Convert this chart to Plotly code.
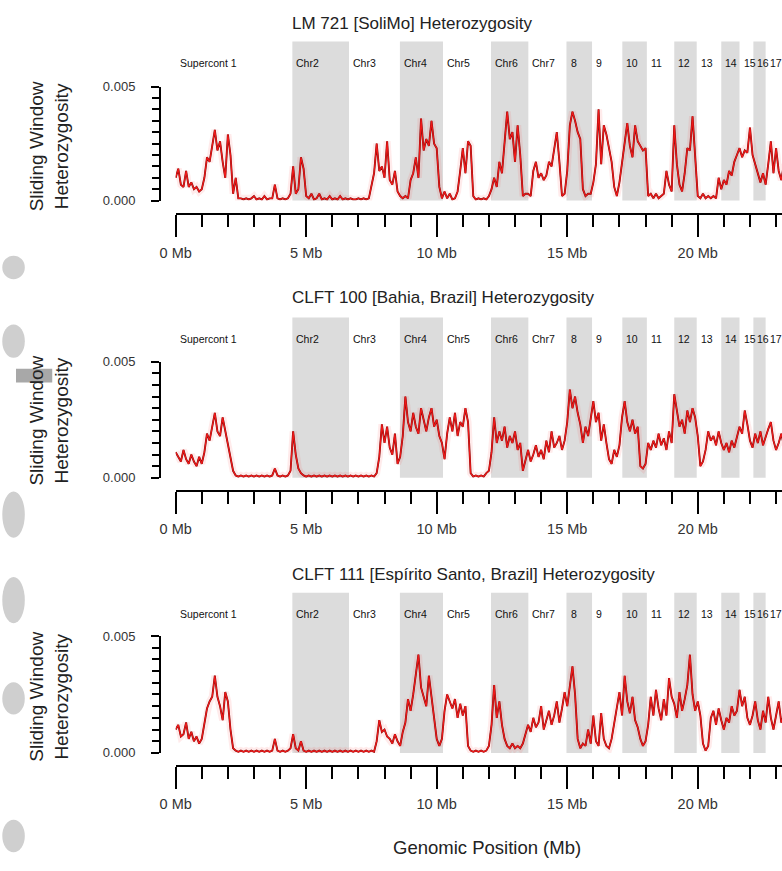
import plotly.graph_objects as go

W, H = 782, 871

# ---------------- data ----------------
sample_titles = [
    "LM 721 [SoliMo] Heterozygosity",
    "CLFT 100 [Bahia, Brazil] Heterozygosity",
    "CLFT 111 [Espírito Santo, Brazil] Heterozygosity",
]

chrom_names = ["Supercont 1", "Chr2", "Chr3", "Chr4", "Chr5", "Chr6", "Chr7",
               "8", "9", "10", "11", "12", "13", "14", "15", "16", "17"]
chrom_starts_mb = [0.0, 4.47, 6.64, 8.59, 10.24, 12.08, 13.51, 14.97, 15.95,
                   17.11, 18.05, 19.10, 19.96, 20.90, 21.60, 22.13, 22.60]
last_chrom_end_mb = 23.6

window_step_mb = 0.1   # sliding-window spacing (windows start at 0 Mb)

# heterozygosity per window, in units of 1e-3
het1_milli = [
    1.0, 1.4, 0.7, 0.6, 1.3, 0.6, 0.8, 0.5, 0.6, 0.4,
    0.5, 1.0, 1.9, 1.7, 2.4, 3.1, 2.2, 2.6, 1.7, 1.0,
    2.9, 2.0, 0.3, 1.0, 0.1, 0.1, 0.05, 0.1, 0.05, 0.1,
    0.2, 0.05, 0.1, 0.05, 0.2, 0.05, 0.1, 0.1, 0.7, 0.1,
    0.05, 0.1, 0.05, 0.1, 0.3, 1.5, 0.3, 0.5, 1.9, 1.4,
    0.2, 0.1, 0.3, 0.05, 0.1, 0.3, 0.05, 0.1, 0.05, 0.2,
    0.05, 0.1, 0.05, 0.2, 0.05, 0.1, 0.05, 0.1, 0.05, 0.05,
    0.1, 0.05, 0.1, 0.05, 0.1, 0.6, 1.2, 2.5, 1.3, 1.5,
    1.0, 2.6, 0.9, 0.7, 1.3, 0.4, 0.2, 0.1, 0.2, 0.1,
    0.9, 1.2, 1.9, 1.0, 3.6, 2.2, 2.7, 2.4, 3.5, 2.5,
    2.3, 0.6, 0.1, 0.4, 0.1, 0.3, 0.05, 0.1, 0.4, 1.3,
    2.3, 1.2, 2.6, 2.4, 0.2, 0.05, 0.1, 0.05, 0.1, 0.05,
    0.2, 0.5, 1.0, 0.6, 1.7, 1.2, 2.5, 3.9, 2.7, 3.0,
    1.7, 3.3, 2.0, 0.2, 0.3, 0.3, 0.2, 1.3, 1.7, 1.0,
    1.2, 0.9, 1.1, 1.7, 1.5, 2.3, 3.0, 1.7, 0.2, 0.3,
    1.3, 3.3, 3.9, 3.5, 3.0, 2.7, 0.5, 0.2, 0.3, 0.3,
    0.8, 1.6, 4.0, 1.6, 3.3, 2.9, 2.2, 1.7, 0.6, 0.2,
    0.8, 1.7, 2.5, 3.4, 2.4, 1.9, 3.3, 2.6, 2.4, 2.2,
    2.3, 0.2, 0.3, 0.1, 0.3, 0.1, 0.2, 0.3, 1.3, 0.7,
    0.4, 3.3, 1.6, 0.7, 0.4, 1.2, 2.3, 2.2, 3.7, 2.0,
    0.2, 0.1, 0.3, 0.1, 0.2, 0.1, 0.2, 0.1, 1.0, 0.5,
    0.9, 0.7, 1.3, 1.1, 1.7, 2.0, 2.3, 1.9, 2.2, 2.1,
    3.2, 2.0, 1.6, 1.3, 0.8, 1.2, 0.7, 1.6, 2.6, 1.2,
    2.3, 1.3, 0.9, 1.6,
]
het2_milli = [
    1.1, 0.9, 0.7, 1.2, 0.8, 0.6, 1.0, 0.7, 0.5, 0.9,
    0.6, 1.1, 1.9, 1.6, 2.2, 2.8, 2.0, 1.8, 2.6, 2.0,
    1.5, 0.8, 0.3, 0.1, 0.05, 0.1, 0.05, 0.1, 0.05, 0.1,
    0.05, 0.1, 0.05, 0.1, 0.05, 0.1, 0.05, 0.1, 0.4, 0.1,
    0.05, 0.1, 0.05, 0.1, 0.3, 2.0, 1.0, 0.4, 0.2, 0.1,
    0.05, 0.1, 0.05, 0.1, 0.05, 0.1, 0.05, 0.1, 0.05, 0.1,
    0.05, 0.1, 0.05, 0.1, 0.05, 0.1, 0.05, 0.1, 0.05, 0.1,
    0.05, 0.1, 0.05, 0.1, 0.05, 0.1, 0.05, 0.2, 0.9, 2.3,
    1.5, 2.2, 1.3, 1.0, 1.9, 0.6, 0.9, 1.8, 3.5, 2.4,
    2.0, 2.8, 2.2, 1.9, 3.0, 2.5, 2.0, 2.6, 3.0, 2.2,
    2.5, 1.8, 1.5, 0.8, 1.9, 2.6, 2.0, 2.8, 1.8, 2.4,
    2.2, 3.0, 2.4, 0.2, 0.05, 0.1, 0.05, 0.1, 0.05, 0.2,
    0.3, 1.1, 2.6, 1.5, 2.0, 1.6, 2.2, 1.3, 1.8, 1.5,
    2.0, 1.2, 1.5, 0.3, 0.8, 1.2, 0.7, 1.0, 1.4, 0.9,
    1.2, 0.8, 1.6, 1.1, 2.0, 1.3, 1.5, 1.8, 1.2, 1.6,
    2.4, 3.8, 3.0, 3.5, 2.8, 2.3, 1.5, 2.2, 1.8, 2.6,
    3.3, 2.4, 2.8, 1.6, 2.3, 1.5, 0.8, 0.6, 1.2, 0.9,
    1.4, 2.6, 3.3, 2.4, 2.0, 2.5, 1.9, 2.2, 0.5, 0.4,
    0.6, 1.5, 1.2, 1.6, 1.3, 1.9, 1.4, 1.7, 1.2, 2.0,
    1.5, 3.6, 2.8, 2.2, 2.5, 1.9, 2.9, 2.4, 3.0, 2.6,
    1.8, 0.5, 0.7, 1.2, 2.0, 1.6, 1.8, 1.4, 2.0, 1.5,
    1.2, 1.5, 1.1, 1.6, 1.3, 1.8, 2.2, 1.9, 2.9, 2.3,
    1.6, 1.3, 1.9, 1.5, 2.0, 1.4, 1.8, 2.1, 2.4, 1.6,
    1.2, 1.5, 1.9, 1.4,
]
het3_milli = [
    1.0, 1.2, 0.7, 0.8, 1.3, 0.6, 0.9, 0.5, 0.7, 0.4,
    0.6, 1.2, 1.9, 2.2, 2.4, 3.3, 2.4, 2.0, 1.4, 2.6,
    2.2, 1.0, 0.2, 0.1, 0.05, 0.1, 0.05, 0.1, 0.05, 0.1,
    0.05, 0.1, 0.05, 0.1, 0.05, 0.1, 0.05, 0.1, 0.6, 0.1,
    0.05, 0.1, 0.05, 0.1, 0.2, 0.8, 0.2, 0.1, 0.5, 0.1,
    0.05, 0.1, 0.05, 0.1, 0.05, 0.1, 0.05, 0.1, 0.05, 0.1,
    0.05, 0.1, 0.05, 0.1, 0.05, 0.1, 0.05, 0.1, 0.05, 0.1,
    0.05, 0.1, 0.05, 0.1, 0.05, 0.1, 0.05, 0.5, 1.4, 0.9,
    1.0, 0.7, 0.6, 0.4, 0.8, 0.5, 0.3, 0.9, 1.3, 2.3,
    1.8, 2.5, 3.4, 4.2, 2.8, 2.4, 2.0, 3.3, 2.5, 1.5,
    0.6, 0.3, 0.6, 1.8, 2.5, 2.2, 1.9, 2.3, 1.5, 2.1,
    1.6, 2.0, 0.3, 0.1, 0.05, 0.1, 0.05, 0.1, 0.05, 0.1,
    0.3, 1.2, 2.9, 1.5, 2.2, 1.2, 0.6, 0.3, 0.2, 0.4,
    0.2, 0.3, 0.2, 0.4, 0.8, 1.2, 0.9, 1.5, 1.1, 1.3,
    2.0, 1.0, 1.4, 1.8, 1.2, 1.6, 2.2, 1.3, 1.9, 2.6,
    2.0, 2.9, 3.7, 2.5, 0.6, 0.2, 0.4, 0.3, 1.0, 0.4,
    1.6, 0.5, 0.3, 1.7, 0.6, 0.3, 0.2, 0.6, 1.3, 2.0,
    2.6, 1.6, 3.3, 2.2, 1.7, 2.4, 1.4, 1.1, 0.6, 0.3,
    0.5, 1.2, 2.4, 1.6, 2.7, 1.9, 1.4, 2.3, 1.6, 3.2,
    2.4, 2.1, 1.5, 2.6, 1.8, 2.3, 2.9, 4.2, 2.5, 1.8,
    2.2, 1.6, 0.4, 0.1, 0.3, 1.5, 1.8, 1.2, 1.9, 1.4,
    1.0, 1.5, 1.3, 2.0, 1.6, 1.8, 2.7, 2.0, 2.4, 1.5,
    1.2, 1.6, 2.2, 1.4, 1.0, 1.8, 1.3, 2.4, 1.5, 1.0,
    1.7, 2.2, 1.3, 1.6,
]
samples_milli = [het1_milli, het2_milli, het3_milli]

x_tick_vals = [0, 5, 10, 15, 20, 25]
x_tick_text = ["0 Mb", "5 Mb", "10 Mb", "15 Mb", "20 Mb", "25 Mb"]
y_tick_vals = [0.0, 0.005]
y_tick_text = ["0.000", "0.005"]

# ---------------- layout helpers ----------------
FONT = "Liberation Sans, Arial, sans-serif"
PX_PER_MB = 26.65
X0_PX = 163            # pixel of 0 Mb
YAXIS_PX = 147         # detached y axis
PANEL_ZERO_PX = [197, 479, 759]
PANEL_TOP_PX = [81, 361, 640]
PANEL_XAXIS_PX = [211, 492, 772]
PANEL_BAND_TOP_PX = [35, 316, 596]
PANEL_LABEL_PX = [57, 338, 618]
PANEL_TITLE_PX = [17, 296, 577]
PANEL_YLAB_PX = [142, 421, 702]


def py(p):
    return 1 - p / H


def pxx(p):
    return p / W


x_max = (W - X0_PX) / PX_PER_MB

fig = go.Figure()
shapes = []
annotations = []

for k, vals in enumerate(samples_milli):
    sfx = "" if k == 0 else str(k + 1)
    xa, ya = "x" + sfx, "y" + sfx
    pos = [round(i * window_step_mb, 3) for i in range(len(vals))]
    het = [v * 1e-3 for v in vals]

    fig.add_trace(go.Scatter(x=pos, y=het, xaxis=xa, yaxis=ya, mode="lines",
                             line=dict(color="rgba(255,60,60,0.10)", width=7),
                             hoverinfo="skip", showlegend=False))
    fig.add_trace(go.Scatter(x=pos, y=het, xaxis=xa, yaxis=ya, mode="lines",
                             line=dict(color="#7a0c0c", width=1.9),
                             hoverinfo="skip", showlegend=False))
    fig.add_trace(go.Scatter(x=pos, y=het, xaxis=xa, yaxis=ya, mode="lines",
                             line=dict(color="#f01818", width=1.2),
                             showlegend=False))

    fig.update_layout({
        "xaxis" + sfx: dict(
            domain=[pxx(X0_PX), 1], range=[0, x_max], anchor="free",
            position=py(PANEL_XAXIS_PX[k]), showline=True, linecolor="black",
            linewidth=2, ticks="outside", ticklen=22, tickwidth=2,
            tickcolor="black", tickmode="array", tickvals=x_tick_vals,
            ticktext=x_tick_text,
            minor=dict(ticks="outside", tickmode="linear", tick0=0, dtick=1,
                       ticklen=12, tickwidth=2, tickcolor="black"),
            showgrid=False, zeroline=False, ticklabelstandoff=3,
            tickfont=dict(family=FONT, size=14.5, color="#333")),
        "yaxis" + sfx: dict(
            domain=[py(PANEL_ZERO_PX[k]), py(PANEL_TOP_PX[k])], range=[0, 0.005],
            anchor="free", position=pxx(YAXIS_PX), showline=True,
            linecolor="black", linewidth=2, ticks="outside", ticklen=8,
            tickwidth=1.5, tickcolor="black", tickmode="array",
            tickvals=y_tick_vals, ticktext=y_tick_text,
            minor=dict(ticks="outside", tickmode="linear", tick0=0,
                       dtick=0.0005, ticklen=7, tickwidth=1.5,
                       tickcolor="black"),
            showgrid=False, zeroline=False, ticklabelstandoff=13,
            tickfont=dict(family=FONT, size=13, color="#333")),
    })

    ends = chrom_starts_mb[1:] + [last_chrom_end_mb]
    for i, (name, s, e) in enumerate(zip(chrom_names, chrom_starts_mb, ends)):
        if i % 2 == 1:
            shapes.append(dict(type="rect", xref=xa, yref="paper", x0=s, x1=e,
                               y0=py(PANEL_ZERO_PX[k]),
                               y1=py(PANEL_BAND_TOP_PX[k]),
                               fillcolor="#dcdcdc", line=dict(width=0),
                               layer="below"))
        annotations.append(dict(x=s + 0.08, y=py(PANEL_LABEL_PX[k]), xref=xa,
                                yref="paper", text=name, showarrow=False,
                                xanchor="left", yanchor="middle",
                                font=dict(family=FONT, size=10.5, color="#111")))

    annotations.append(dict(x=pxx(280), y=py(PANEL_TITLE_PX[k]), xref="paper",
                            yref="paper", text=sample_titles[k], showarrow=False,
                            xanchor="left", yanchor="middle",
                            font=dict(family=FONT, size=17, color="#222")))
    annotations.append(dict(x=pxx(33.5), y=py(PANEL_YLAB_PX[k]), xref="paper",
                            yref="paper", text="Sliding Window<br>Heterozygosity",
                            showarrow=False, textangle=-90, xanchor="center",
                            yanchor="middle",
                            font=dict(family=FONT, size=19, color="#222")))

annotations.append(dict(x=pxx(481), y=py(855), xref="paper", yref="paper",
                        text="Genomic Position (Mb)", showarrow=False,
                        xanchor="center", yanchor="middle",
                        font=dict(family=FONT, size=18.5, color="#222")))

# faint gray shapes along the left edge (from the cropped neighbouring figure)
for (a, b) in [(253, 277), (323, 357), (493, 540), (580, 627), (687, 720), (827, 860)]:
    shapes.append(dict(type="circle", xref="paper", yref="paper",
                       x0=pxx(-14), x1=pxx(9), y0=py(b), y1=py(a),
                       fillcolor="#cfcfcf", line=dict(width=0), layer="below"))
shapes.append(dict(type="rect", xref="paper", yref="paper", x0=0, x1=pxx(37),
                   y0=py(382), y1=py(368), fillcolor="#a8a8a8",
                   line=dict(width=0), layer="below"))

fig.update_layout(width=W, height=H, margin=dict(l=0, r=0, t=0, b=0),
                  paper_bgcolor="white", plot_bgcolor="rgba(0,0,0,0)",
                  shapes=shapes, annotations=annotations, showlegend=False,
                  font=dict(family=FONT))

fig.write_html(
    "out.html",
    config={"displayModeBar": False},
    post_script="document.body.style.margin='0';"
                "document.body.style.padding='0';"
                "document.documentElement.style.overflow='hidden';"
                "document.body.style.overflow='hidden';",
)
